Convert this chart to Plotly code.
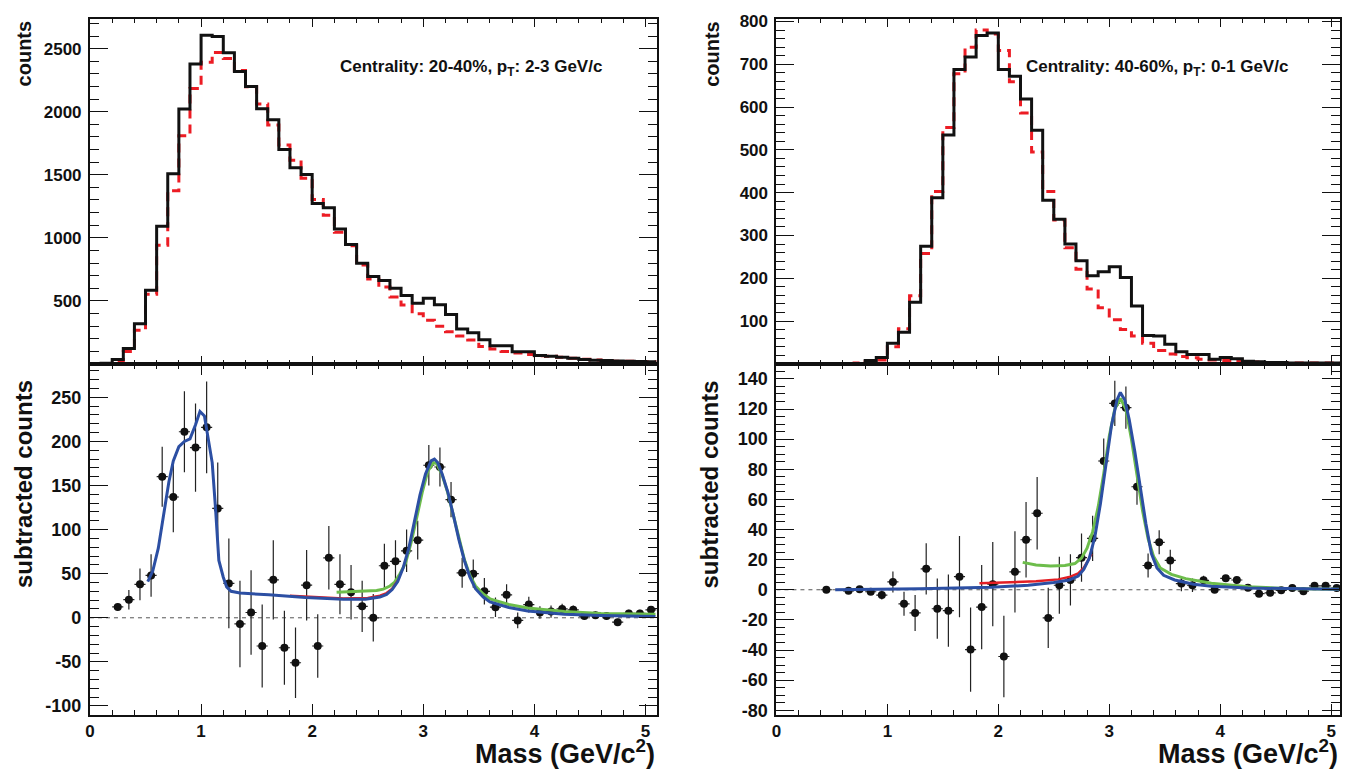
import plotly.graph_objects as go

# ---------------- data ----------------
bin_edges_lo = [round(0.1 * i, 1) for i in range(51)]  # 0.0 ... 5.0, width 0.1

# top-left: centrality 20-40 %, pT 2-3 GeV/c
same_event_2040 = [3, 5, 34, 122, 319, 583, 1091, 1509, 2022, 2379,
                   2607, 2597, 2468, 2320, 2201, 2024, 1936, 1700, 1555, 1503,
                   1273, 1239, 1070, 946, 798, 692, 661, 599, 542, 480,
                   521, 469, 391, 277, 246, 192, 143, 143, 96, 96,
                   67, 60, 52, 44, 34, 29, 26, 23, 21, 18, 16]
mixed_event_2040 = [2, 2, 20, 98, 267, 552, 941, 1374, 1809, 2185,
                    2392, 2470, 2423, 2327, 2198, 2061, 1895, 1737, 1615, 1472,
                    1304, 1179, 1045, 936, 785, 674, 609, 531, 467, 397,
                    345, 298, 254, 220, 189, 137, 117, 98, 86, 75,
                    65, 60, 52, 44, 36, 31, 26, 21, 21, 18, 16]

# top-right: centrality 40-60 %, pT 0-1 GeV/c
same_event_4060 = [0, 0, 0, 0, 0, 0, 0, 1, 8, 15,
                   48, 74, 144, 275, 388, 535, 688, 717, 767, 773,
                   688, 672, 619, 546, 382, 338, 280, 241, 206, 215,
                   227, 202, 135, 66, 65, 46, 28, 22, 22, 11,
                   15, 12, 6, 5, 3, 3, 2, 2, 2, 2, 2]
mixed_event_4060 = [0, 0, 0, 0, 0, 0, 1, 2, 5, 9,
                    40, 82, 159, 258, 403, 552, 678, 740, 780, 771,
                    732, 659, 586, 495, 403, 336, 271, 221, 175, 131,
                    103, 80, 65, 48, 31, 23, 17, 14, 11, 9,
                    8, 6, 5, 4, 3, 3, 2, 2, 2, 2, 2]

# bottom-left: subtracted spectrum 20-40 %
sub_x_2040 = [round(0.25 + 0.1 * i, 2) for i in range(49)]
sub_y_2040 = [12.3, 20.5, 38, 48, 160, 137, 211, 193, 216, 124,
              39, -7, 6, -32, 43, -34, -51, 37, -32, 68,
              38, 29, 13, 0, 59, 64, 76, 88, 173, 171,
              134, 51, 50, 30, 12, 26, -3, 15, 6, 7,
              10, 9, 2, 3, 2, -5, 5, 5, 9]
sub_err_2040 = [4, 11, 18, 24, 34, 40, 46, 50, 52, 52,
                51, 49, 48, 47, 45, 42, 40, 40, 36, 36,
                34, 31, 29, 27, 25, 24, 24, 22, 23, 22,
                20, 17, 16, 15, 11, 12, 9, 9, 7, 7,
                6, 5, 4, 4, 4, 4, 4, 4, 4]

# bottom-right: subtracted spectrum 40-60 %
sub_x_4060 = [0.45] + [round(0.65 + 0.1 * i, 2) for i in range(45)]
sub_y_4060 = [0, -0.7, 0.4, -1.3, -3.5, 5.2, -9.3, -15.4, 13.9, -12.6,
              -13.9, 8.7, -39.7, -11.5, 3.7, -44.3, 11.9, 33.2, 50.8, -18.7,
              3.0, 6.5, 21.3, 34.1, 85.5, 123.7, 120.9, 68.4, 16.1, 31.5,
              19.5, 4.1, 3.0, 6.3, 0, 7.6, 6.5, 1.3, -2.6, -2.0,
              -0.4, 1.1, -0.9, 2.6, 2.6, 1.1]
sub_err_4060 = [1, 1, 1, 1.5, 3, 7, 8, 12, 17, 20,
                24, 27, 28, 28, 28, 27, 27, 25, 24, 20,
                19, 17, 16, 15, 15, 15, 14, 12, 8, 8,
                7, 5, 4.5, 3, 2, 2, 2, 2, 2, 2,
                2, 2, 2, 2, 2, 2]

# fit curves, 20-40 %
fit_full_x_2040 = [0.52, 0.565, 0.615, 0.66, 0.71, 0.75, 0.80, 0.85, 0.90, 0.95,
                   0.99, 1.03, 1.06, 1.10, 1.13, 1.16, 1.20, 1.23, 1.27, 1.35,
                   1.61, 1.94, 2.28, 2.48, 2.61, 2.67, 2.72, 2.77, 2.82, 2.87,
                   2.92, 2.97, 3.02, 3.07, 3.10, 3.13, 3.17, 3.22, 3.27, 3.32,
                   3.37, 3.42, 3.47, 3.54, 3.60, 3.77, 3.94, 4.27, 4.60, 5.09]
fit_full_y_2040 = [41, 53, 79, 117, 154, 178, 194, 200, 203, 219,
                   234, 229, 206, 176, 124, 65, 46, 35, 30, 28,
                   26, 23, 21, 21, 23.5, 26.5, 32, 41, 57, 79,
                   109, 139, 163, 178, 180, 176, 163, 143, 117, 89,
                   65, 46, 33, 23.5, 18, 11.6, 7.8, 4.1, 2.6, 1.5]
fit_red_x_2040 = [1.80, 2.00, 2.28, 2.50, 2.61, 2.67, 2.72, 2.77]
fit_red_y_2040 = [25, 24, 22, 22.5, 25, 28, 33, 42]
fit_green_x_2040 = [2.22, 2.35, 2.47, 2.58, 2.64, 2.70, 2.74, 2.79, 2.84, 2.89,
                    2.94, 2.99, 3.04, 3.09, 3.12, 3.17, 3.22, 3.27, 3.32, 3.37,
                    3.42, 3.47, 3.54, 3.60, 3.77, 3.94, 4.27, 4.60, 5.09]
fit_green_y_2040 = [29, 29.5, 30, 31, 32.5, 36, 40, 50, 62, 85,
                    113, 142, 166, 176, 175, 162, 142, 117, 90, 66,
                    48, 36, 27, 21.5, 15, 11, 7, 5, 4]

# fit curves, 40-60 %
fit_full_x_4060 = [0.53, 1.29, 1.94, 2.27, 2.50, 2.64, 2.72, 2.77, 2.82, 2.87,
                   2.92, 2.97, 3.02, 3.07, 3.10, 3.14, 3.18, 3.23, 3.28, 3.33,
                   3.38, 3.43, 3.49, 3.59, 3.76, 3.92, 4.25, 4.58, 5.07]
fit_full_y_4060 = [0, 0.6, 1.7, 3.0, 4.8, 6.5, 9.1, 13.5, 21, 35,
                   57, 83, 109, 126, 131, 126, 113, 92, 68, 44,
                   24, 14.5, 9.6, 6.5, 3.7, 2.4, 1.1, 0.65, 0.4]
fit_red_x_4060 = [1.83, 2.11, 2.34, 2.54, 2.65, 2.72, 2.77, 2.81, 2.84]
fit_red_y_4060 = [4.3, 4.8, 5.6, 6.9, 8.7, 10.9, 14.5, 19.5, 24]
fit_green_x_4060 = [2.22, 2.34, 2.47, 2.60, 2.69, 2.75, 2.80, 2.85, 2.90, 2.95,
                    3.00, 3.05, 3.10, 3.15, 3.20, 3.25, 3.30, 3.35, 3.40, 3.46,
                    3.56, 3.69, 3.92, 4.25, 4.58, 5.07]
fit_green_y_4060 = [18.2, 16.5, 15.8, 16.1, 17.4, 21, 27.6, 38.4, 55, 77,
                    102, 120, 127, 120, 100, 76, 52.5, 34, 22, 14.5,
                    10.2, 7.4, 4.3, 2.0, 0.9, 0.4]

panel_text = ["Centrality: 20-40%, p<sub>T</sub>: 2-3 GeV/c",
              "Centrality: 40-60%, p<sub>T</sub>: 0-1 GeV/c"]

# ---------------- style ----------------
W, H = 1346, 770
FONT = "Liberation Sans"
BLACK = "#111111"
HIST_RED = "#ec1c24"
FIT_BLUE = "#2c4fa3"
FIT_RED = "#e31e24"
FIT_GREEN = "#6dbd4b"

def px_x(p):
    return p / W

def px_y(p):
    return 1 - p / H

left_dom = [px_x(85.3), px_x(654)]
right_dom = [px_x(774.3), px_x(1340)]
top_dom = [px_y(363.5), px_y(12.7)]
bot_dom = [px_y(720), px_y(363.5)]

fig = go.Figure()

def hist_xy(vals):
    xs = bin_edges_lo + [round(bin_edges_lo[-1] + 0.1, 1)]
    ys = list(vals) + [vals[-1]]
    return xs, ys

# histograms
for vals_s, vals_m, xa, ya in [(same_event_2040, mixed_event_2040, "x", "y"),
                               (same_event_4060, mixed_event_4060, "x2", "y2")]:
    hx, hy = hist_xy(vals_s)
    mx, my = hist_xy(vals_m)
    fig.add_trace(go.Scatter(x=mx, y=my, mode="lines", line_shape="hv",
                             line=dict(color=HIST_RED, width=3, dash="9px,6px"),
                             xaxis=xa, yaxis=ya, showlegend=False))
    fig.add_trace(go.Scatter(x=hx, y=hy, mode="lines", line_shape="hv",
                             line=dict(color=BLACK, width=3),
                             xaxis=xa, yaxis=ya, showlegend=False))

# subtracted spectra with fits
for (sx, sy, se, fx, fy, rx, ry, gx, gy, xa, ya, xmax) in [
        (sub_x_2040, sub_y_2040, sub_err_2040, fit_full_x_2040, fit_full_y_2040,
         fit_red_x_2040, fit_red_y_2040, fit_green_x_2040, fit_green_y_2040, "x3", "y3", 5.1),
        (sub_x_4060, sub_y_4060, sub_err_4060, fit_full_x_4060, fit_full_y_4060,
         fit_red_x_4060, fit_red_y_4060, fit_green_x_4060, fit_green_y_4060, "x4", "y4", 5.08)]:
    fig.add_trace(go.Scatter(x=[0, xmax], y=[0, 0], mode="lines",
                             line=dict(color="#555555", width=1, dash="4px,4px"),
                             xaxis=xa, yaxis=ya, showlegend=False))
    fig.add_trace(go.Scatter(x=sx, y=sy, mode="markers",
                             marker=dict(color=BLACK, size=8, symbol="circle"),
                             error_y=dict(type="data", array=se, color="#222222",
                                          thickness=1.2, width=0),
                             error_x=dict(type="constant", value=0.05, color="#222222",
                                          thickness=1.2, width=0),
                             xaxis=xa, yaxis=ya, showlegend=False))
    fig.add_trace(go.Scatter(x=gx, y=gy, mode="lines",
                             line=dict(color=FIT_GREEN, width=3),
                             xaxis=xa, yaxis=ya, showlegend=False))
    fig.add_trace(go.Scatter(x=rx, y=ry, mode="lines",
                             line=dict(color=FIT_RED, width=2.5),
                             xaxis=xa, yaxis=ya, showlegend=False))
    fig.add_trace(go.Scatter(x=fx, y=fy, mode="lines",
                             line=dict(color=FIT_BLUE, width=3),
                             xaxis=xa, yaxis=ya, showlegend=False))

# ---------------- axes ----------------
def x_axis(domain, anchor, xmax, labels, major_len, minor_len):
    return dict(domain=domain, anchor=anchor, range=[0, xmax],
                showgrid=False, zeroline=False,
                showline=True, linecolor=BLACK, linewidth=2, mirror="allticks",
                ticks="inside", ticklen=major_len, tickwidth=1, tickcolor=BLACK,
                tickvals=[0, 1, 2, 3, 4, 5], showticklabels=labels,
                tickfont=dict(family=FONT, size=17, color=BLACK, weight="bold"),
                minor=dict(ticks="inside", dtick=0.2, tick0=0, ticklen=minor_len,
                           tickwidth=1, tickcolor=BLACK))

def y_axis(domain, anchor, rng, vals, minor_dtick, size):
    return dict(domain=domain, anchor=anchor, range=rng,
                showgrid=False, zeroline=False,
                showline=True, linecolor=BLACK, linewidth=2, mirror="allticks",
                ticks="inside", ticklen=18, tickwidth=1, tickcolor=BLACK,
                tickvals=vals, ticktext=[str(v) for v in vals],
                ticklabelstandoff=3,
                tickfont=dict(family=FONT, size=size, color=BLACK, weight="bold"),
                minor=dict(ticks="inside", dtick=minor_dtick, tick0=0, ticklen=9,
                           tickwidth=1, tickcolor=BLACK))

fig.update_layout(
    xaxis=x_axis(left_dom, "y", 5.1, False, 8, 4),
    yaxis=y_axis(top_dom, "x", [0, 2740], [500, 1000, 1500, 2000, 2500], 100, 17),
    xaxis2=x_axis(right_dom, "y2", 5.08, False, 8, 4),
    yaxis2=y_axis(top_dom, "x2", [0, 807], [100, 200, 300, 400, 500, 600, 700, 800], 20, 17),
    xaxis3=x_axis(left_dom, "y3", 5.1, True, 11, 5),
    yaxis3=y_axis(bot_dom, "x3", [-110, 288], [-100, -50, 0, 50, 100, 150, 200, 250], 10, 18),
    xaxis4=x_axis(right_dom, "y4", 5.08, True, 11, 5),
    yaxis4=y_axis(bot_dom, "x4", [-83, 150], [-80, -60, -40, -20, 0, 20, 40, 60, 80, 100, 120, 140], 5, 18),
)

# ---------------- text ----------------
ann = []
for xref, txt in [("x", panel_text[0]), ("x2", panel_text[1])]:
    ann.append(dict(x=2.23, y=px_y(62.5), xref=xref, yref="paper", text=txt,
                    showarrow=False, xanchor="left", yanchor="middle",
                    font=dict(family=FONT, size=17, color=BLACK, weight="bold")))
for xc, y_top, txt, size in [(19, 12.7, "counts", 20), (18, 378, "subtracted counts", 24),
                             (709, 12.7, "counts", 20), (707, 378, "subtracted counts", 24)]:
    ann.append(dict(x=px_x(xc), y=px_y(y_top), xref="paper", yref="paper", text=txt,
                    textangle=-90, showarrow=False, xanchor="center", yanchor="top",
                    font=dict(family=FONT, size=size, color=BLACK, weight="bold")))
for x_right in (654, 1340):
    ann.append(dict(x=px_x(x_right), y=px_y(777), xref="paper", yref="paper",
                    text="Mass (GeV/c<sup>2</sup>)", showarrow=False,
                    xanchor="right", yanchor="bottom",
                    font=dict(family=FONT, size=27, color=BLACK, weight="bold")))

fig.update_layout(annotations=ann, width=W, height=H,
                  margin=dict(l=0, r=0, t=0, b=0),
                  paper_bgcolor="white", plot_bgcolor="white")

fig.write_html("out.html")
